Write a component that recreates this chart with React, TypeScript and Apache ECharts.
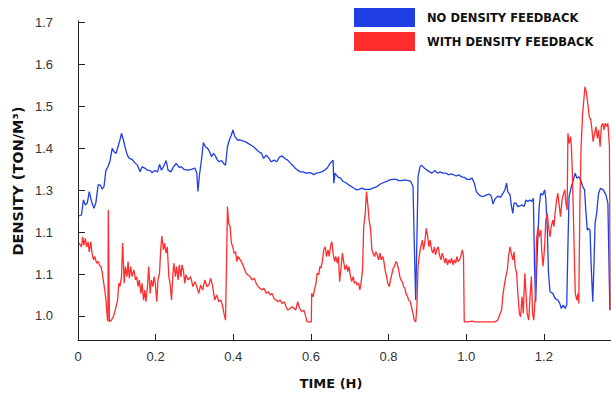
import React, { useEffect, useRef } from "react";
import * as echarts from "echarts";

// Tick labels as printed on the reference (value axis 1.0 … 1.7)
const yTickValues = [1.0, 1.1, 1.2, 1.3, 1.4, 1.5, 1.6, 1.7];
const yTickLabels = ["1.0", "1.1", "1.1", "1.3", "1.4", "1.5", "1.6", "1.7"];
const xTickValues = [0, 0.2, 0.4, 0.6, 0.8, 1.0, 1.2];
const xTickLabels = ["0", "0.2", "0.4", "0.6", "0.8", "1.0", "1.2"];

const seriesNames = ["NO DENSITY FEEDBACK", "WITH DENSITY FEEDBACK"];

// [time (h), density (ton/m³)]
const noFeedback: number[][] = [
  [0.003, 1.239], [0.009, 1.241], [0.014, 1.277], [0.019, 1.265], [0.024, 1.27], [0.029, 1.297],
  [0.035, 1.273], [0.041, 1.257], [0.046, 1.27], [0.052, 1.313], [0.057, 1.313], [0.062, 1.303],
  [0.067, 1.309], [0.072, 1.348], [0.077, 1.356], [0.082, 1.368], [0.088, 1.4], [0.093, 1.392],
  [0.098, 1.388], [0.103, 1.404], [0.108, 1.42], [0.112, 1.436], [0.117, 1.42], [0.122, 1.4],
  [0.127, 1.384], [0.132, 1.376], [0.139, 1.374], [0.146, 1.366], [0.153, 1.36], [0.16, 1.344],
  [0.165, 1.356], [0.172, 1.353], [0.179, 1.348], [0.186, 1.347], [0.191, 1.342], [0.198, 1.347],
  [0.205, 1.344], [0.21, 1.362], [0.215, 1.348], [0.22, 1.356], [0.227, 1.371], [0.232, 1.348],
  [0.239, 1.344], [0.246, 1.356], [0.253, 1.364], [0.26, 1.355], [0.266, 1.356], [0.273, 1.35],
  [0.282, 1.348], [0.292, 1.35], [0.301, 1.353], [0.306, 1.341], [0.309, 1.297], [0.313, 1.337],
  [0.318, 1.372], [0.323, 1.414], [0.328, 1.404], [0.334, 1.4], [0.339, 1.392], [0.344, 1.38],
  [0.349, 1.388], [0.354, 1.382], [0.359, 1.372], [0.364, 1.368], [0.37, 1.371], [0.375, 1.364],
  [0.38, 1.36], [0.385, 1.404], [0.39, 1.42], [0.395, 1.432], [0.399, 1.444], [0.404, 1.428],
  [0.411, 1.42], [0.418, 1.42], [0.424, 1.418], [0.431, 1.416], [0.438, 1.412], [0.445, 1.408],
  [0.452, 1.404], [0.459, 1.398], [0.466, 1.392], [0.473, 1.388], [0.478, 1.376], [0.485, 1.384],
  [0.492, 1.376], [0.498, 1.368], [0.505, 1.372], [0.512, 1.368], [0.519, 1.379], [0.526, 1.382],
  [0.533, 1.376], [0.54, 1.372], [0.546, 1.366], [0.555, 1.358], [0.559, 1.353], [0.566, 1.348],
  [0.573, 1.344], [0.58, 1.344], [0.587, 1.341], [0.594, 1.342], [0.601, 1.341], [0.607, 1.337],
  [0.614, 1.341], [0.621, 1.342], [0.628, 1.344], [0.635, 1.348], [0.642, 1.353], [0.649, 1.364],
  [0.654, 1.368], [0.657, 1.372], [0.659, 1.317], [0.662, 1.341], [0.669, 1.332], [0.676, 1.329],
  [0.683, 1.321], [0.69, 1.318], [0.697, 1.313], [0.704, 1.309], [0.711, 1.305], [0.718, 1.301],
  [0.724, 1.302], [0.731, 1.305], [0.738, 1.302], [0.745, 1.302], [0.752, 1.302], [0.759, 1.305],
  [0.765, 1.307], [0.772, 1.31], [0.779, 1.315], [0.786, 1.318], [0.795, 1.321], [0.803, 1.325],
  [0.812, 1.326], [0.821, 1.326], [0.826, 1.323], [0.834, 1.323], [0.842, 1.325], [0.851, 1.323],
  [0.857, 1.321], [0.863, 1.309], [0.866, 1.181], [0.87, 1.038], [0.873, 1.181], [0.876, 1.332],
  [0.881, 1.356], [0.885, 1.36], [0.892, 1.353], [0.899, 1.348], [0.906, 1.344], [0.912, 1.341],
  [0.919, 1.347], [0.926, 1.341], [0.933, 1.344], [0.94, 1.341], [0.947, 1.341], [0.954, 1.337],
  [0.961, 1.339], [0.968, 1.337], [0.974, 1.334], [0.981, 1.337], [0.988, 1.332], [0.995, 1.331],
  [1.002, 1.326], [1.009, 1.326], [1.015, 1.329], [1.021, 1.317], [1.026, 1.297], [1.033, 1.289],
  [1.04, 1.285], [1.046, 1.286], [1.053, 1.289], [1.06, 1.291], [1.065, 1.285], [1.069, 1.267],
  [1.074, 1.279], [1.081, 1.286], [1.088, 1.283], [1.095, 1.293], [1.1, 1.302], [1.104, 1.317],
  [1.107, 1.297], [1.113, 1.289], [1.116, 1.265], [1.12, 1.245], [1.123, 1.269], [1.128, 1.27],
  [1.133, 1.261], [1.138, 1.263], [1.144, 1.265], [1.149, 1.261], [1.154, 1.277], [1.159, 1.273],
  [1.164, 1.277], [1.169, 1.273], [1.173, 1.281], [1.176, 1.118], [1.179, 1.034], [1.183, 1.15],
  [1.188, 1.261], [1.192, 1.293], [1.197, 1.289], [1.202, 1.301], [1.205, 1.281], [1.209, 1.205],
  [1.212, 1.102], [1.216, 1.058], [1.223, 1.054], [1.229, 1.042], [1.236, 1.038], [1.241, 1.03],
  [1.245, 1.018], [1.25, 1.026], [1.255, 1.018], [1.259, 1.026], [1.262, 1.165], [1.265, 1.285],
  [1.271, 1.309], [1.276, 1.325], [1.281, 1.341], [1.285, 1.329], [1.29, 1.332], [1.295, 1.325],
  [1.3, 1.309], [1.305, 1.301], [1.308, 1.253], [1.312, 1.205], [1.315, 1.209], [1.319, 1.205],
  [1.322, 1.118], [1.326, 1.034], [1.329, 1.118], [1.332, 1.221], [1.336, 1.245], [1.341, 1.293],
  [1.346, 1.305], [1.353, 1.301], [1.36, 1.289], [1.365, 1.269], [1.37, 1.014],
];

const withFeedback: number[][] = [
  [0.003, 1.174], [0.009, 1.165], [0.012, 1.189], [0.015, 1.169], [0.019, 1.185], [0.022, 1.165],
  [0.026, 1.177], [0.029, 1.153], [0.033, 1.177], [0.036, 1.15], [0.04, 1.134], [0.043, 1.142],
  [0.048, 1.126], [0.052, 1.13], [0.055, 1.122], [0.059, 1.118], [0.062, 1.106], [0.065, 1.086],
  [0.069, 1.062], [0.072, 1.038], [0.076, 0.99], [0.077, 0.988], [0.078, 1.253], [0.081, 0.986],
  [0.086, 0.99], [0.091, 0.998], [0.096, 1.014], [0.102, 1.038], [0.105, 1.078], [0.108, 1.07],
  [0.112, 1.094], [0.115, 1.174], [0.119, 1.078], [0.122, 1.118], [0.126, 1.094], [0.129, 1.13],
  [0.132, 1.09], [0.136, 1.118], [0.139, 1.094], [0.144, 1.11], [0.148, 1.086], [0.151, 1.094],
  [0.155, 1.07], [0.158, 1.086], [0.162, 1.054], [0.165, 1.078], [0.169, 1.038], [0.172, 1.062],
  [0.175, 1.034], [0.179, 1.07], [0.182, 1.118], [0.186, 1.054], [0.189, 1.086], [0.193, 1.07],
  [0.196, 1.094], [0.199, 1.078], [0.203, 1.034], [0.206, 1.086], [0.21, 1.102], [0.213, 1.158],
  [0.216, 1.191], [0.22, 1.158], [0.223, 1.174], [0.227, 1.15], [0.23, 1.165], [0.234, 1.094],
  [0.237, 1.078], [0.241, 1.038], [0.244, 1.094], [0.247, 1.126], [0.251, 1.094], [0.254, 1.118],
  [0.258, 1.086], [0.261, 1.122], [0.265, 1.094], [0.268, 1.122], [0.272, 1.106], [0.275, 1.078],
  [0.278, 1.098], [0.284, 1.086], [0.29, 1.094], [0.296, 1.07], [0.301, 1.082], [0.306, 1.07],
  [0.311, 1.054], [0.316, 1.074], [0.321, 1.062], [0.327, 1.086], [0.332, 1.07], [0.337, 1.074],
  [0.342, 1.09], [0.347, 1.07], [0.352, 1.038], [0.357, 1.05], [0.363, 1.034], [0.368, 1.038],
  [0.373, 1.022], [0.376, 1.006], [0.38, 0.99], [0.383, 1.15], [0.385, 1.261], [0.388, 1.221],
  [0.392, 1.213], [0.395, 1.174], [0.399, 1.165], [0.402, 1.15], [0.406, 1.153], [0.409, 1.13],
  [0.412, 1.142], [0.418, 1.134], [0.423, 1.126], [0.428, 1.114], [0.433, 1.102], [0.438, 1.098],
  [0.443, 1.094], [0.448, 1.086], [0.454, 1.09], [0.459, 1.078], [0.464, 1.07], [0.469, 1.066],
  [0.474, 1.062], [0.479, 1.066], [0.485, 1.054], [0.49, 1.058], [0.495, 1.05], [0.5, 1.054],
  [0.505, 1.042], [0.51, 1.038], [0.515, 1.034], [0.521, 1.038], [0.526, 1.03], [0.531, 1.034],
  [0.536, 1.022], [0.541, 1.014], [0.546, 1.018], [0.552, 1.022], [0.557, 1.018], [0.561, 1.014],
  [0.566, 1.034], [0.571, 1.018], [0.577, 1.01], [0.582, 1.014], [0.587, 0.998], [0.59, 0.986],
  [0.601, 0.986], [0.602, 1.054], [0.606, 1.046], [0.609, 1.062], [0.613, 1.078], [0.616, 1.102],
  [0.62, 1.098], [0.623, 1.118], [0.626, 1.114], [0.63, 1.134], [0.633, 1.158], [0.637, 1.165],
  [0.64, 1.142], [0.644, 1.158], [0.647, 1.142], [0.651, 1.169], [0.654, 1.177], [0.657, 1.15],
  [0.661, 1.13], [0.664, 1.142], [0.668, 1.126], [0.671, 1.142], [0.674, 1.082], [0.678, 1.118],
  [0.681, 1.15], [0.685, 1.126], [0.688, 1.11], [0.692, 1.122], [0.695, 1.106], [0.698, 1.118],
  [0.702, 1.094], [0.705, 1.082], [0.709, 1.094], [0.712, 1.078], [0.716, 1.082], [0.719, 1.074],
  [0.723, 1.078], [0.726, 1.062], [0.729, 1.078], [0.733, 1.11], [0.736, 1.213], [0.74, 1.245],
  [0.743, 1.297], [0.747, 1.261], [0.75, 1.229], [0.754, 1.205], [0.757, 1.158], [0.76, 1.15],
  [0.764, 1.142], [0.767, 1.153], [0.771, 1.146], [0.774, 1.134], [0.778, 1.15], [0.781, 1.134],
  [0.785, 1.142], [0.788, 1.13], [0.791, 1.11], [0.795, 1.094], [0.798, 1.078], [0.802, 1.07],
  [0.805, 1.086], [0.809, 1.102], [0.812, 1.114], [0.815, 1.118], [0.819, 1.13], [0.822, 1.126],
  [0.826, 1.11], [0.829, 1.094], [0.832, 1.086], [0.835, 1.082], [0.839, 1.07], [0.842, 1.066],
  [0.845, 1.054], [0.849, 1.046], [0.852, 1.038], [0.856, 1.034], [0.859, 1.022], [0.863, 1.006],
  [0.866, 0.99], [0.87, 0.986], [0.873, 1.022], [0.876, 1.118], [0.88, 1.15], [0.883, 1.165],
  [0.887, 1.181], [0.89, 1.158], [0.894, 1.181], [0.897, 1.209], [0.901, 1.189], [0.904, 1.165],
  [0.907, 1.181], [0.911, 1.158], [0.914, 1.15], [0.918, 1.165], [0.921, 1.146], [0.924, 1.158],
  [0.928, 1.165], [0.931, 1.146], [0.935, 1.134], [0.938, 1.15], [0.942, 1.138], [0.945, 1.126],
  [0.948, 1.138], [0.952, 1.122], [0.955, 1.134], [0.959, 1.126], [0.962, 1.138], [0.966, 1.122],
  [0.969, 1.134], [0.973, 1.126], [0.976, 1.142], [0.979, 1.13], [0.983, 1.134], [0.986, 1.142],
  [0.99, 1.158], [0.993, 1.142], [0.995, 0.986], [1.005, 0.986], [1.015, 0.988], [1.022, 0.986],
  [1.04, 0.986], [1.057, 0.986], [1.074, 0.986], [1.081, 0.99], [1.086, 1.002], [1.091, 1.014],
  [1.095, 1.054], [1.099, 1.078], [1.102, 1.094], [1.106, 1.11], [1.109, 1.142], [1.113, 1.165],
  [1.116, 1.15], [1.12, 1.134], [1.123, 1.153], [1.126, 1.118], [1.13, 1.102], [1.133, 1.054],
  [1.137, 1.006], [1.14, 0.998], [1.144, 1.046], [1.147, 1.006], [1.151, 1.102], [1.154, 1.054],
  [1.157, 1.006], [1.161, 0.99], [1.164, 1.038], [1.168, 1.094], [1.171, 1.006], [1.174, 0.99],
  [1.178, 1.046], [1.181, 1.181], [1.185, 1.213], [1.188, 1.189], [1.192, 1.205], [1.195, 1.15],
  [1.198, 1.118], [1.202, 1.165], [1.205, 1.229], [1.209, 1.245], [1.212, 1.213], [1.216, 1.189],
  [1.219, 1.213], [1.223, 1.229], [1.226, 1.213], [1.229, 1.245], [1.233, 1.277], [1.236, 1.293],
  [1.24, 1.261], [1.243, 1.237], [1.247, 1.277], [1.25, 1.289], [1.254, 1.301], [1.257, 1.269],
  [1.26, 1.253], [1.262, 1.436], [1.265, 1.412], [1.269, 1.428], [1.271, 1.404], [1.274, 1.325],
  [1.278, 1.165], [1.281, 1.054], [1.285, 1.038], [1.288, 1.054], [1.29, 1.03], [1.291, 1.118],
  [1.293, 1.277], [1.296, 1.404], [1.3, 1.484], [1.303, 1.516], [1.306, 1.547], [1.31, 1.532],
  [1.314, 1.5], [1.317, 1.476], [1.321, 1.468], [1.324, 1.444], [1.327, 1.416], [1.331, 1.436],
  [1.334, 1.452], [1.338, 1.424], [1.341, 1.444], [1.345, 1.404], [1.348, 1.452], [1.352, 1.46],
  [1.355, 1.444], [1.358, 1.46], [1.362, 1.452], [1.365, 1.46], [1.369, 1.404], [1.371, 1.014],
];

const BLUE = "#1f3fe3";
const RED = "#ff2d2d";

export default function App() {
  const ref = useRef<HTMLDivElement>(null);

  useEffect(() => {
    if (!ref.current) return;
    const chart = echarts.init(ref.current, undefined, { renderer: "svg" });
    const labelFont = { fontFamily: "Liberation Sans", fontSize: 13, color: "#333" };
    const heavy = "'DejaVu Sans', sans-serif";
    chart.setOption({
      animation: false,
      backgroundColor: "#fff",
      grid: { left: 78, right: 0, top: 21, bottom: 56, containLabel: false },
      legend: {
        orient: "vertical",
        left: 354,
        top: 8,
        padding: 0,
        itemWidth: 61,
        itemHeight: 19,
        itemGap: 5,
        icon: "rect",
        selectedMode: false,
        textStyle: {
          fontFamily: heavy,
          fontWeight: "bold",
          fontSize: 11.5,
          color: "#111",
          padding: [0, 0, 0, 7],
        },
        data: seriesNames,
      },
      xAxis: {
        type: "value",
        min: 0,
        max: 1.373,
        axisLine: { show: true, lineStyle: { color: "#222", width: 1 } },
        axisTick: { show: true, inside: true, length: 6, customValues: xTickValues, lineStyle: { color: "#222" } },
        axisLabel: {
          ...labelFont,
          margin: 10,
          customValues: xTickValues,
          formatter: (v: number) => xTickLabels[Math.round(v * 5)] ?? "",
        },
        splitLine: { show: false },
      },
      yAxis: {
        type: "value",
        min: 0.9427,
        max: 1.704,
        axisLine: { show: true, lineStyle: { color: "#222", width: 1 } },
        axisTick: { show: true, inside: true, length: 7, customValues: yTickValues, lineStyle: { color: "#222" } },
        axisLabel: {
          ...labelFont,
          margin: 25,
          customValues: yTickValues,
          formatter: (v: number) => yTickLabels[Math.round((v - 1) * 10)] ?? "",
        },
        splitLine: { show: false },
      },
      graphic: [
        {
          type: "text",
          x: 18,
          y: 181,
          rotation: Math.PI / 2,
          style: {
            text: "DENSITY (TON/M³)",
            fill: "#111",
            font: `bold 14.5px ${heavy}`,
            align: "center",
            verticalAlign: "middle",
          },
        },
        {
          type: "text",
          x: 331,
          y: 383,
          style: {
            text: "TIME (H)",
            fill: "#111",
            font: `bold 13px ${heavy}`,
            align: "center",
            verticalAlign: "middle",
          },
        },
      ],
      series: [
        {
          name: seriesNames[0],
          type: "line",
          data: noFeedback,
          showSymbol: false,
          symbol: "none",
          color: BLUE,
          lineStyle: { color: BLUE, width: 1.3 },
          itemStyle: { color: BLUE },
        },
        {
          name: seriesNames[1],
          type: "line",
          data: withFeedback,
          showSymbol: false,
          symbol: "none",
          color: RED,
          lineStyle: { color: RED, width: 1.3 },
          itemStyle: { color: RED },
        },
      ],
    });
    return () => chart.dispose();
  }, []);

  return <div ref={ref} style={{ width: 611, height: 396, position: "absolute", left: 0, top: 0 }} />;
}
